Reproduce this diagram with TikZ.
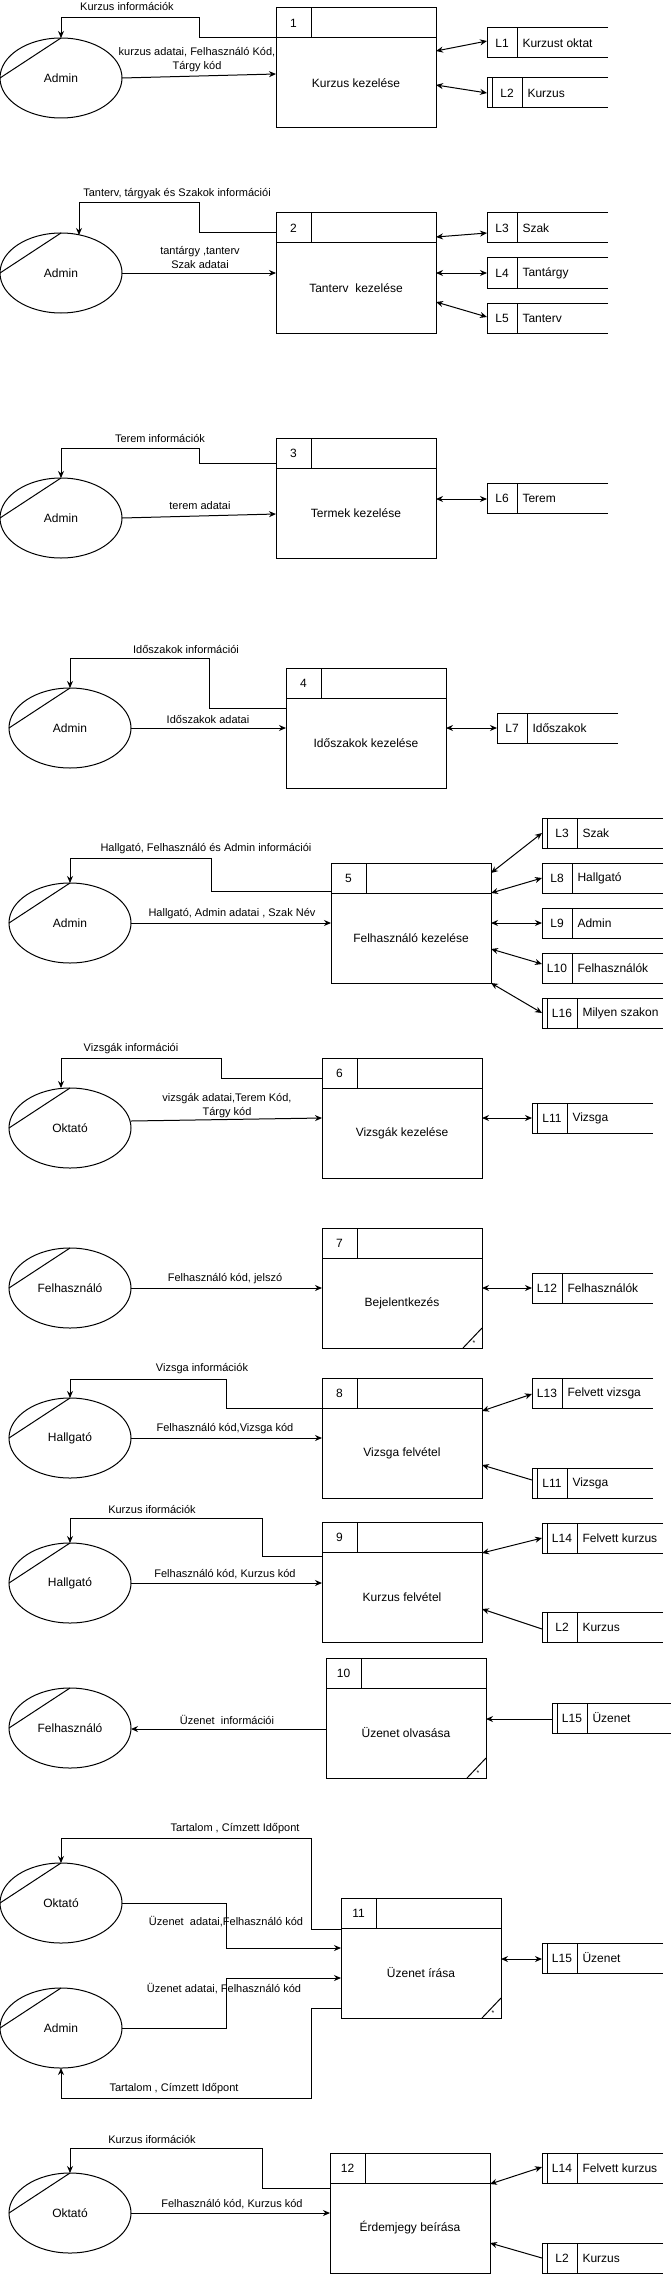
\documentclass[tikz,border=0pt]{standalone}
\usepackage{fontspec}
\setmainfont{Liberation Sans}
\usetikzlibrary{shapes.geometric,arrows.meta}

\tikzset{
 procbody/.style={draw, rectangle, minimum width=160pt, minimum height=90pt, inner sep=0pt, outer sep=0pt, font=\fontsize{12}{14}\selectfont},
 prochead/.style={draw, rectangle, minimum width=160pt, minimum height=30pt, inner sep=0pt, outer sep=0pt},
 numtxt/.style={font=\fontsize{12}{14}\selectfont, inner sep=0pt},
 ent/.style={draw, ellipse, minimum width=122pt, minimum height=80pt, inner sep=0pt, outer sep=0pt, font=\fontsize{12}{14}\selectfont},
 storebox/.style={rectangle, minimum width=121pt, minimum height=30pt, inner sep=0pt, outer sep=0pt},
 storetxt/.style={font=\fontsize{12}{14}\selectfont, inner sep=0pt},
 lbl/.style={font=\fontsize{11}{14}\selectfont, inner sep=0pt, align=center},
 arr/.style={-{Stealth[length=7pt,width=6pt]}},
 biarr/.style={{Stealth[length=7pt,width=6pt]}-{Stealth[length=7pt,width=6pt]}},
}

% process: name, cx, cy (body centre), number, text
\newcommand{\process}[5]{%
  \node[procbody] (#1) at (#2,#3) {#5};
  \node[prochead,anchor=south] (#1h) at (#1.north) {};
  \draw ([xshift=35pt]#1h.north west) -- ([xshift=35pt]#1h.south west);
  \node[numtxt] (#1n) at ([xshift=17.5pt]#1h.west) {#4};
}
% corner mark
\newcommand{\cornermark}[1]{%
  \draw ([xshift=-19pt]#1.south east) -- ([yshift=20pt]#1.south east);
  \node[font=\fontsize{7}{7}\selectfont, inner sep=0pt] (#1star) at ([xshift=-8pt,yshift=5pt]#1.south east) {*};
}
% entity: name, cx, cy, text
\newcommand{\entity}[4]{%
  \node[ent] (#1) at (#2,#3) {#4};
  \draw (#1.north) -- (#1.west);
}
% data store single: name, x, y, id, text
\newcommand{\storeS}[5]{%
  \node[storebox,anchor=north west] (#1) at (#2,#3) {};
  \draw (#1.north east) -- (#1.north west) -- (#1.south west) -- (#1.south east);
  \draw ([xshift=30pt]#1.north west) -- ([xshift=30pt]#1.south west);
  \node[storetxt] (#1i) at ([xshift=15pt]#1.west) {#4};
  \node[storetxt,anchor=west] (#1t) at ([xshift=35pt]#1.west) {#5};
}
% data store double: name, x, y, id, text
\newcommand{\storeD}[5]{%
  \node[storebox,anchor=north west] (#1) at (#2,#3) {};
  \draw (#1.north east) -- (#1.north west) -- (#1.south west) -- (#1.south east);
  \draw ([xshift=5pt]#1.north west) -- ([xshift=5pt]#1.south west);
  \draw ([xshift=35pt]#1.north west) -- ([xshift=35pt]#1.south west);
  \node[storetxt] (#1i) at ([xshift=20pt]#1.west) {#4};
  \node[storetxt,anchor=west] (#1t) at ([xshift=40pt]#1.west) {#5};
}

\begin{document}
\begin{tikzpicture}[x=1pt,y=-1pt,line width=1pt]
\useasboundingbox (0,0) rectangle (671,2274);

% ---------------- Block 1
\entity{e1}{61}{78}{Admin}
\process{p1}{356}{83}{1}{Kurzus kezelése}
\storeS{s1}{487}{28}{L1}{Kurzust oktat}
\storeD{s2}{487}{78}{L2}{Kurzus}
\draw[arr] (p1h.south west) -- (199,38) -- (199,18) -| (e1.north);
\node[lbl] (t1a) at (127,7) {Kurzus információk};
\draw[arr] (e1.east) -- (p1.west |- 0,74);
\node[lbl] (t1b) at (197,60) {kurzus adatai, Felhasználó Kód,\\Tárgy kód};
\draw[biarr] (p1.east |- 0,51) -- (s1.west |- 0,41);
\draw[biarr] (p1.east |- 0,85) -- (s2.west |- 0,93);

% ---------------- Block 2
\entity{e2}{61}{273}{Admin}
\process{p2}{356}{288}{2}{Tanterv\ \ kezelése}
\storeS{s3}{487}{213}{L3}{Szak}
\storeS{s4}{487}{258}{L4}{Tantárgy}
\storeS{s5}{487}{303}{L5}{Tanterv}
\draw[arr] (p2h.west |- 0,233) -- (199,233) -- (199,203) -| ([xshift=18pt,yshift=-2pt]e2.north);
\node[lbl] (t2a) at (177,194) {Tanterv, tárgyak és Szakok információi};
\draw[arr] (e2.east) -- (p2.west |- 0,273);
\node[lbl] (t2b) at (200,258) {tantárgy ,tanterv\\Szak adatai};
\draw[biarr] (p2.east |- 0,237) -- (s3.west |- 0,233);
\draw[biarr] (p2.east |- 0,273) -- (s4.west |- 0,273);
\draw[biarr] (p2.east |- 0,302) -- (s5.west |- 0,317);

% ---------------- Block 3
\entity{e3}{61}{518}{Admin}
\process{p3}{356}{513}{3}{Termek kezelése}
\storeS{s6}{487}{483}{L6}{Terem}
\draw[arr] (p3h.west |- 0,463) -- (199,463) -- (199,448) -| (e3.north);
\node[lbl] (t3a) at (160,439) {Terem információk};
\draw[arr] (e3.east) -- (p3.west |- 0,514);
\node[lbl] (t3b) at (200,506) {terem adatai};
\draw[biarr] (p3.east |- 0,499) -- (s6.west |- 0,499);

% ---------------- Block 4
\entity{e4}{70}{728}{Admin}
\process{p4}{366}{743}{4}{Időszakok kezelése}
\storeS{s7}{497}{713}{L7}{Időszakok}
\draw[arr] (p4.west |- 0,708) -- (209,708) -- (209,658) -| (e4.north);
\node[lbl] (t4a) at (186,649) {Időszakok információi};
\draw[arr] (e4.east) -- (p4.west |- 0,728);
\node[lbl] (t4b) at (208,719) {Időszakok adatai};
\draw[biarr] (p4.east |- 0,728) -- (s7.west |- 0,728);

% ---------------- Block 5
\entity{e5}{70}{923}{Admin}
\process{p5}{411}{938}{5}{Felhasználó kezelése}
\storeD{s8}{542}{818}{L3}{Szak}
\storeS{s9}{542}{863}{L8}{Hallgató}
\storeS{s10}{542}{908}{L9}{Admin}
\storeS{s11}{542}{953}{L10}{Felhasználók}
\storeD{s12}{542}{998}{L16}{Milyen szakon}
\draw[arr] (p5.west |- 0,891) -- (211,891) -- (211,858) -| (e5.north);
\node[lbl] (t5a) at (206,849) {Hallgató, Felhasználó és Admin információi};
\draw[arr] (e5.east) -- (p5.west |- 0,923);
\node[lbl] (t5b) at (232,914) {Hallgató, Admin adatai , Szak Név};
\draw[biarr] (p5.east |- 0,873) -- (s8.west |- 0,833);
\draw[biarr] (p5.east |- 0,893) -- (s9.west |- 0,878);
\draw[biarr] (p5.east |- 0,923) -- (s10.west |- 0,923);
\draw[biarr] (p5.east |- 0,949) -- (s11.west |- 0,964);
\draw[biarr] (p5.east |- 0,983) -- (s12.west |- 0,1013);

% ---------------- Block 6
\entity{e6}{70}{1128}{Oktató}
\process{p6}{402}{1133}{6}{Vizsgák kezelése}
\storeD{s13}{532}{1103}{L11}{Vizsga}
\draw[arr] (p6.west |- 0,1078) -- (221,1078) -- (221,1058) -| ([xshift=-9pt]e6.north);
\node[lbl] (t6a) at (131,1049) {Vizsgák információi};
\draw[arr] (e6.east |- 0,1121) -- (p6.west |- 0,1118);
\node[lbl] (t6b) at (227,1106) {vizsgák adatai,Terem Kód,\\Tárgy kód};
\draw[biarr] (p6.east |- 0,1118) -- (s13.west |- 0,1118);

% ---------------- Block 7
\entity{e7}{70}{1288}{Felhasználó}
\process{p7}{402}{1303}{7}{Bejelentkezés}
\cornermark{p7}
\storeS{s14}{532}{1273}{L12}{Felhasználók}
\draw[arr] (e7.east) -- (p7.west |- 0,1288);
\node[lbl] (t7a) at (225,1279) {Felhasználó kód, jelszó};
\draw[biarr] (p7.east |- 0,1288) -- (s14.west |- 0,1288);

% ---------------- Block 8
\entity{e8}{70}{1438}{Hallgató}
\process{p8}{402}{1453}{8}{Vizsga felvétel}
\storeS{s15}{532}{1378}{L13}{Felvett vizsga}
\storeD{s16}{532}{1468}{L11}{Vizsga}
\draw[arr] (p8h.south west) -- (226,1408) -- (226,1379) -| (e8.north);
\node[lbl] (t8a) at (202,1369) {Vizsga információk};
\draw[arr] (e8.east) -- (p8.west |- 0,1438);
\node[lbl] (t8b) at (225,1429) {Felhasználó kód,Vizsga kód};
\draw[biarr] (p8.east |- 0,1411) -- (s15.west |- 0,1394);
\draw[arr] (s16.west |- 0,1480) -- (p8.east |- 0,1465);

% ---------------- Block 9
\entity{e9}{70}{1583}{Hallgató}
\process{p9}{402}{1597}{9}{Kurzus felvétel}
\storeD{s17}{542}{1523}{L14}{Felvett kurzus}
\storeD{s18}{542}{1612}{L2}{Kurzus}
\draw[arr] (p9.west |- 0,1556) -- (262,1556) -- (262,1518) -| (e9.north);
\node[lbl] (t9a) at (152,1509) {Kurzus iformációk};
\draw[arr] (e9.east) -- (p9.west |- 0,1583);
\node[lbl] (t9b) at (225,1574) {Felhasználó kód, Kurzus kód};
\draw[biarr] (p9.east |- 0,1553) -- (s17.west |- 0,1538);
\draw[arr] (s18.west |- 0,1629) -- (p9.east |- 0,1609);

% ---------------- Block 10
\entity{e10}{70}{1728}{Felhasználó}
\process{p10}{406}{1733}{10}{Üzenet olvasása}
\cornermark{p10}
\storeD{s19}{552}{1703}{L15}{Üzenet}
\draw[arr] (p10.west |- 0,1729) -- (e10.east |- 0,1729);
\node[lbl] (t10a) at (227,1720) {Üzenet\ \ információi};
\draw[arr] (s19.west |- 0,1719) -- (p10.east |- 0,1719);

% ---------------- Block 11
\entity{e11}{61}{1903}{Oktató}
\entity{e12}{61}{2028}{Admin}
\process{p11}{421}{1973}{11}{Üzenet írása}
\cornermark{p11}
\storeD{s20}{542}{1943}{L15}{Üzenet}
\draw[arr] (p11.west |- 0,1929) -- (311,1929) -- (311,1838) -| (e11.north);
\node[lbl] (t11a) at (235,1829) {Tartalom , Címzett Időpont};
\draw[arr] (e11.east) -| (226,1948) -- (p11.west |- 0,1948);
\node[lbl] (t11b) at (226,1922) {Üzenet\ \ adatai,Felhasználó kód};
\draw[arr] (e12.east) -| (226,1978) -- (p11.west |- 0,1978);
\node[lbl] (t11c) at (224,1989) {Üzenet adatai, Felhasználó kód};
\draw[arr] (p11.west |- 0,2008) -- (311,2008) -- (311,2098) -| (e12.south);
\node[lbl] (t11d) at (174,2089) {Tartalom , Címzett Időpont};
\draw[biarr] (p11.east |- 0,1959) -- (s20.west |- 0,1959);

% ---------------- Block 12
\entity{e13}{70}{2213}{Oktató}
\process{p12}{410}{2228}{12}{Érdemjegy beírása}
\storeD{s21}{542}{2153}{L14}{Felvett kurzus}
\storeD{s22}{542}{2243}{L2}{Kurzus}
\draw[arr] (p12.west |- 0,2188) -- (262,2188) -- (262,2148) -| (e13.north);
\node[lbl] (t12a) at (152,2139) {Kurzus iformációk};
\draw[arr] (e13.east) -- (p12.west |- 0,2213);
\node[lbl] (t12b) at (232,2204) {Felhasználó kód, Kurzus kód};
\draw[biarr] (p12.east |- 0,2184) -- (s21.west |- 0,2167);
\draw[arr] (s22.west |- 0,2258) -- (p12.east |- 0,2243);
\end{tikzpicture}
\end{document}
